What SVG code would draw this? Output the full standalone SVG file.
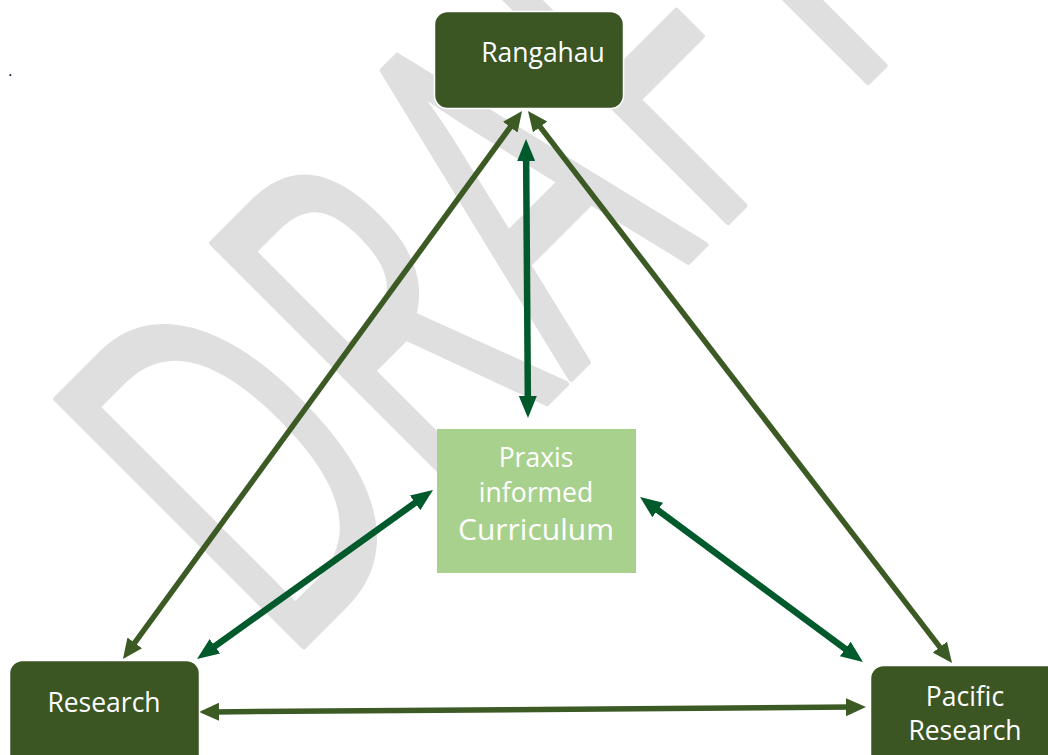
<svg xmlns="http://www.w3.org/2000/svg" width="1048" height="755" viewBox="0 0 1048 755">
  <style>
    .wm { font-family: "Open Sans", "Noto Sans", sans-serif; fill: #dfdfdf; stroke: #dfdfdf; stroke-width: 6; stroke-linejoin: round; }
    .dark { fill: #3b5523; stroke: #ffffff; stroke-width: 1.5; }
    .light { fill: #a9d18e; }
    .lbl { font-family: "Open Sans", "Noto Sans", sans-serif; fill: #ffffff; text-anchor: middle; font-size: 26.5px; }
    .olive { fill: none; stroke: #3b5a24; stroke-width: 5.5; marker-start: url(#headOlive); marker-end: url(#headOlive); }
    .deep { fill: none; stroke: #005a2b; stroke-width: 6.5; marker-start: url(#headDeep); marker-end: url(#headDeep); }
  </style>
  <defs>
    <marker id="headOlive" markerUnits="userSpaceOnUse" markerWidth="24" markerHeight="20" refX="6" refY="9" orient="auto-start-reverse">
      <path d="M0,0 L20,9 L0,18 Z" fill="#3b5a24"/>
    </marker>
    <marker id="headDeep" markerUnits="userSpaceOnUse" markerWidth="24" markerHeight="20" refX="8" refY="9" orient="auto-start-reverse">
      <path d="M0,0 L22,9 L0,18 Z" fill="#005a2b"/>
    </marker>
  </defs>

  <rect width="1048" height="755" fill="#ffffff"/>

  <!-- background watermark -->
  <text class="wm" font-size="490" transform="translate(282,668) rotate(-45) scale(0.62,1)">DRAFT</text>

  <!-- stray full stop near the top-left margin -->
  <text x="8" y="76" font-family="Liberation Sans, sans-serif" font-size="16" fill="#000000">.</text>

  <g id="connectors">
    <path class="olive" d="M513.8,122.3 L131.2,647.7"/>
    <path class="olive" d="M536.5,122.1 L943.5,651.9"/>
    <path class="olive" d="M213,711.9 L852,707.1"/>
    <path class="deep" d="M526.1,153 L527.9,404"/>
    <path class="deep" d="M421.6,498.2 L208.4,650.9"/>
    <path class="deep" d="M651.3,505.3 L851.7,653.7"/>
  </g>

  <g id="rangahau">
    <rect class="dark" x="434.5" y="11.5" width="189" height="97" rx="13"/>
    <text class="lbl" x="543" y="62">Rangahau</text>
  </g>

  <g id="praxis">
    <rect class="light" x="437" y="429" width="199" height="144"/>
    <text class="lbl" x="536" y="467">Praxis</text>
    <text class="lbl" x="536" y="502">informed</text>
    <text class="lbl" x="536" y="540" style="font-size:30px">Curriculum</text>
  </g>

  <g id="research">
    <rect class="dark" x="9.5" y="660.5" width="190" height="110" rx="13"/>
    <text class="lbl" x="104" y="712">Research</text>
  </g>

  <g id="pacific-research">
    <rect class="dark" x="870.5" y="665.5" width="190" height="110" rx="13"/>
    <text class="lbl" x="965" y="706">Pacific</text>
    <text class="lbl" x="965" y="740">Research</text>
  </g>
</svg>
